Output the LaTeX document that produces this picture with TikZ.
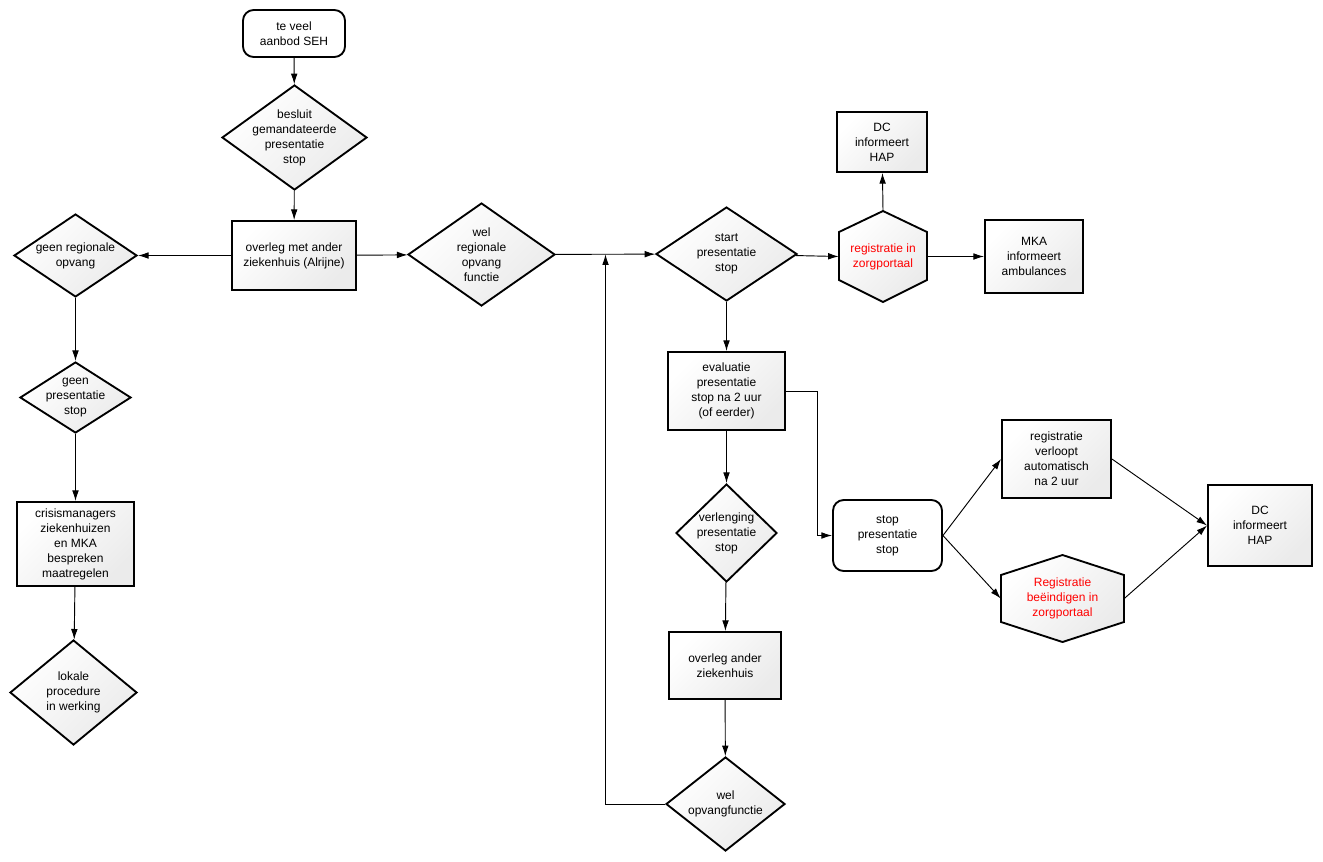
\documentclass[tikz,border=0pt]{standalone}
\usepackage{fontspec}
\setmainfont{Liberation Sans}
\usepackage{tikz}
\usetikzlibrary{shapes.geometric,arrows.meta,positioning,calc}

\begin{document}
\begin{tikzpicture}[x=0.75pt,y=-0.75pt,
      every node/.style={align=center, font=\fontsize{9}{11.25}\selectfont},
      box/.style={draw, rectangle, line width=1.4pt, top color=white, bottom color=black!8, shading angle=45},
      endbox/.style={draw, rectangle, rounded corners=8pt, line width=1.4pt, fill=white},
      choice/.style={draw, diamond, line width=1.4pt, top color=white, bottom color=black!8, shading angle=45, inner sep=0pt},
      hexbox/.style={rectangle, text=red, inner sep=0pt},
      hexfill/.style={draw, line width=1.4pt, top color=white, bottom color=black!8, shading angle=45},
      conn/.style={-{Latex[length=8pt,width=5pt]}, line width=0.7pt}
    ]
    \useasboundingbox (0,0) rectangle (1323,861);

    % left column
    \node[endbox, minimum width=76.5pt, minimum height=35.25pt] (seh) at (294,33.5) {te veel\\aanbod SEH};
    \node[choice, minimum width=108.75pt, minimum height=78.75pt,
          label={center:{besluit\\gemandateerde\\presentatie\\stop}}] (besluit) at (294.5,137.5) {};
    \node[box, minimum width=93pt, minimum height=51.75pt] (overleg) at (294,255.5) {overleg met ander\\ziekenhuis (Alrijne)};
    \node[choice, minimum width=92.25pt, minimum height=62.25pt,
          label={center:{geen regionale\\opvang}}] (geenreg) at (75.5,255.5) {};
    \node[choice, minimum width=110.25pt, minimum height=77.25pt,
          label={center:{wel\\regionale\\opvang\\functie}}] (welreg) at (481.5,254.5) {};
    \node[choice, minimum width=83.25pt, minimum height=53.25pt,
          label={center:{geen\\presentatie\\stop}}] (geenstop) at (75.5,397.5) {};
    \node[box, minimum width=87.75pt, minimum height=63pt] (crisis) at (75.5,544) {crisismanagers\\ziekenhuizen\\en MKA\\bespreken\\maatregelen};
    \node[choice, minimum width=95.25pt, minimum height=78.75pt,
          label={center:{lokale\\procedure\\in werking}}] (lokaal) at (73.5,692.5) {};

    % middle column
    \node[choice, minimum width=105.75pt, minimum height=70.5pt,
          label={center:{start\\presentatie\\stop}}] (startstop) at (726.5,254) {};
    \node[box, minimum width=87.75pt, minimum height=58.5pt] (evaluatie) at (726.5,391) {evaluatie\\presentatie\\stop na 2 uur\\(of eerder)};
    \node[choice, minimum width=75.75pt, minimum height=73.5pt,
          label={center:{verlenging\\presentatie\\stop}}] (verlenging) at (726.5,533) {};
    \node[box, minimum width=84pt, minimum height=50.25pt] (overleg2) at (725,665.5) {overleg ander\\ziekenhuis};
    \node[choice, minimum width=89.25pt, minimum height=70.5pt,
          label={center:{wel\\opvangfunctie}}] (welopvang) at (725.5,804) {};

    % registratie
    \shade[hexfill] (883,211) -- (927,232) -- (927,280) -- (883,302) -- (839,280) -- (839,232) -- cycle;
    \node[hexbox, minimum width=66pt, minimum height=68.25pt] (portaal) at (883,256.5) {registratie in\\zorgportaal};
    \node[box, minimum width=67.5pt, minimum height=45pt] (dchap) at (882,142) {DC\\informeert\\HAP};
    \node[box, minimum width=73.5pt, minimum height=54.75pt] (mka) at (1034,256.5) {MKA\\informeert\\ambulances};

    % einde
    \node[endbox, minimum width=81.75pt, minimum height=53.25pt] (stop) at (887.5,535.5) {stop\\presentatie\\stop};
    \node[box, minimum width=81.75pt, minimum height=58.5pt] (verloopt) at (1056.5,459) {registratie\\verloopt\\automatisch\\na 2 uur};
    \shade[hexfill] (1062.5,555) -- (1124,575) -- (1124,622) -- (1062.5,642) -- (1001,622) -- (1001,575) -- cycle;
    \node[hexbox, minimum width=92.25pt, minimum height=65.25pt] (beeindig) at (1062.5,598.5) {Registratie\\beëindigen in\\zorgportaal};
    \node[box, minimum width=78pt, minimum height=60.75pt] (dchap2) at (1260,525.5) {DC\\informeert\\HAP};

    \coordinate (terug) at ($(welreg.east)!0.5!(startstop.west)$);

    % connectors
    \draw[conn] (seh) -- (besluit);
    \draw[conn] (besluit) -- (overleg);
    \draw[conn] (overleg) -- (geenreg);
    \draw[conn] (overleg) -- (welreg);
    \draw[conn] (welreg) -- (startstop);
    \draw[conn] (geenreg) -- (geenstop);
    \draw[conn] (geenstop) -- (crisis);
    \draw[conn] (crisis) -- (lokaal);
    \draw[conn] (startstop) -- (portaal.west);
    \draw[conn] (portaal.north) -- (dchap);
    \draw[conn] (portaal.east) -- (mka);
    \draw[conn] (startstop) -- (evaluatie);
    \draw[conn] (evaluatie) -- (verlenging);
    \draw[conn] (verlenging) -- (overleg2);
    \draw[conn] (overleg2) -- (welopvang);
    \draw[conn] (evaluatie.east) -- ++(32,0) |- (stop.west);
    \draw[conn] (welopvang.west) -| (terug);
    \draw[conn] (stop.east) -- (verloopt.west);
    \draw[conn] (stop.east) -- (beeindig.west);
    \draw[conn] (verloopt.east) -- (dchap2.west);
    \draw[conn] (beeindig.east) -- (dchap2.west);
\end{tikzpicture}
\end{document}
